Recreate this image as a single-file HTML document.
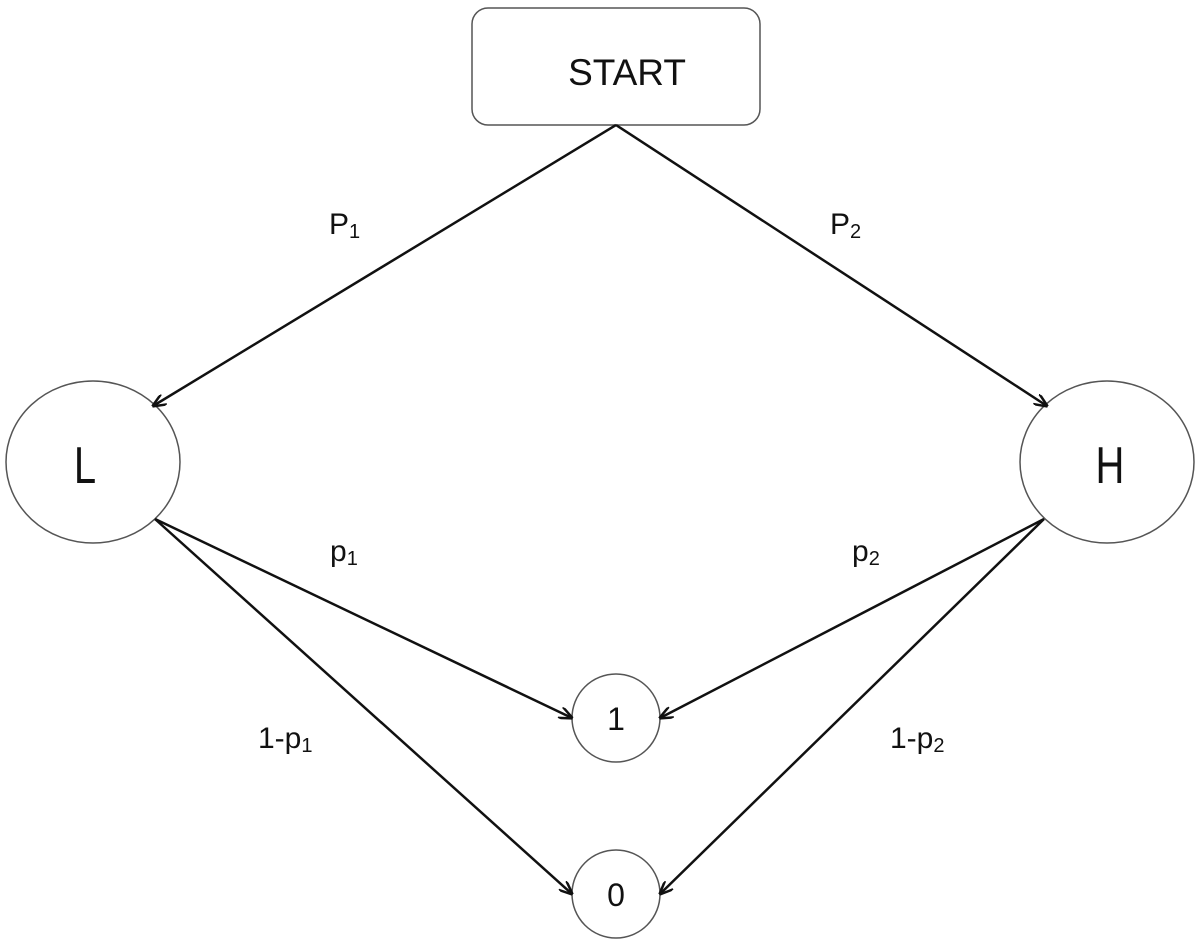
<!DOCTYPE html>
<html><head><meta charset="utf-8"><style>
html,body{margin:0;padding:0;background:#fff;}
svg text{font-family:"Liberation Sans",sans-serif;fill:#111;}
</style></head><body>
<svg width="1200" height="945" viewBox="0 0 1200 945" xmlns="http://www.w3.org/2000/svg">
<defs>
<marker id="a" markerWidth="14" markerHeight="12" refX="13" refY="6" orient="auto" markerUnits="userSpaceOnUse">
<path d="M0,0 L14,6 L0,12" fill="none" stroke="#111" stroke-width="2.5"/>
</marker>
</defs>
<rect x="472" y="8" width="288" height="117" rx="16" fill="#fff" stroke="#555" stroke-width="1.5"/>
<text x="627" y="85" font-size="37" text-anchor="middle">START</text>
<ellipse cx="93" cy="462" rx="87" ry="81" fill="#fff" stroke="#555" stroke-width="1.5"/>
<ellipse cx="1107" cy="462" rx="87" ry="81" fill="#fff" stroke="#555" stroke-width="1.5"/>
<text x="0" y="0" font-size="40" text-anchor="middle" transform="translate(85,483) scale(1,1.3)">L</text>
<text x="0" y="0" font-size="40" text-anchor="middle" transform="translate(1110,483) scale(1,1.3)">H</text>
<circle cx="616" cy="718" r="44" fill="#fff" stroke="#555" stroke-width="1.5"/>
<circle cx="616" cy="894" r="44" fill="#fff" stroke="#555" stroke-width="1.5"/>
<text x="616" y="730" font-size="32" text-anchor="middle">1</text>
<text x="616" y="906" font-size="32" text-anchor="middle">0</text>
<g stroke="#111" stroke-width="2.5" fill="none">
<line x1="616" y1="125" x2="153" y2="406" marker-end="url(#a)"/>
<line x1="616" y1="125" x2="1047" y2="406" marker-end="url(#a)"/>
<line x1="155" y1="519" x2="572" y2="718" marker-end="url(#a)"/>
<line x1="155" y1="519" x2="572" y2="894" marker-end="url(#a)"/>
<line x1="1044" y1="519" x2="660" y2="718" marker-end="url(#a)"/>
<line x1="1044" y1="519" x2="660" y2="894" marker-end="url(#a)"/>
</g>
<text x="329" y="234" font-size="30">P<tspan font-size="20" dy="4">1</tspan></text>
<text x="830" y="234" font-size="30">P<tspan font-size="20" dy="4">2</tspan></text>
<text x="330" y="561" font-size="30">p<tspan font-size="20" dy="4">1</tspan></text>
<text x="852" y="561" font-size="30">p<tspan font-size="20" dy="4">2</tspan></text>
<text x="258" y="748" font-size="30">1-p<tspan font-size="20" dy="4">1</tspan></text>
<text x="890" y="748" font-size="30">1-p<tspan font-size="20" dy="4">2</tspan></text>
</svg>
</body></html>
